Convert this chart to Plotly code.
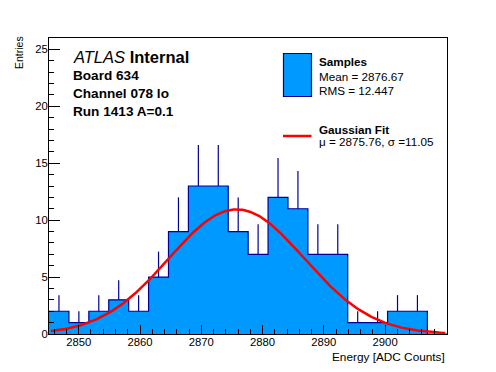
import numpy as np
import plotly.graph_objects as go

# ---- data ----
bin_low = 2845.15
bin_width = 3.25
counts = [2, 1, 2, 3, 2, 5, 9, 13, 13, 9, 7, 12, 11, 7, 7, 1, 1, 2, 2, 0]
fit_mu = 2875.76
fit_sigma = 11.05
fit_amp = 10.95
x_range = [2845.15, 2910.1]
y_range = [0, 26]
x_ticks = [2850, 2860, 2870, 2880, 2890, 2900]
y_ticks = [0, 5, 10, 15, 20, 25]
label_lines = ["Board 634", "Channel 078 lo", "Run 1413 A=0.1"]
legend_samples = ["Samples", "Mean = 2876.67", "RMS = 12.447"]
legend_fit = ["Gaussian Fit", "\u03bc = 2875.76, \u03c3 =11.05"]

# ---- derived ----
n = len(counts)
edges = [bin_low + bin_width * i for i in range(n + 1)]
centers = [bin_low + bin_width * (i + 0.5) for i in range(n)]
step_y = counts + [counts[-1]]

FILL = "#0099FF"
NAVY = "#000099"
FONT = "Liberation Sans, Arial, Helvetica, sans-serif"

W, H = 496, 372
ML, MR, MT, MB = 49, 49, 38, 38
PW, PH = W - ML - MR, H - MT - MB


def px(x):
    return (x - ML) / PW


def py(y):
    return (H - MB - y) / PH


fig = go.Figure()

# histogram fill + outline (step)
fig.add_trace(go.Scatter(
    x=edges, y=step_y, mode="lines", line=dict(shape="hv", color=NAVY, width=1.2),
    fill="tozeroy", fillcolor=FILL, hoverinfo="skip", showlegend=False))

# error bars (upper only)
ex = [c for c, v in zip(centers, counts) if v > 0]
ey = [v for v in counts if v > 0]
fig.add_trace(go.Scatter(
    x=ex, y=ey, mode="markers", marker=dict(size=0.1, color=NAVY, opacity=0),
    error_y=dict(type="data", array=list(np.sqrt(ey)), arrayminus=[0] * len(ey),
                 symmetric=False, color=NAVY, thickness=1.2, width=0),
    showlegend=False, hoverinfo="skip"))

# gaussian fit curve
gx = np.linspace(x_range[0] + 0.3, x_range[1] - 0.3, 400)
gy = fit_amp * np.exp(-0.5 * ((gx - fit_mu) / fit_sigma) ** 2)
fig.add_trace(go.Scatter(x=gx, y=gy, mode="lines", line=dict(color="#FF0000", width=2.5),
                         showlegend=False, hoverinfo="skip"))

axis_common = dict(
    showgrid=False, zeroline=False, showline=True, linecolor="black", linewidth=1,
    mirror=True, ticks="inside", tickcolor="black",
    tickfont=dict(family=FONT, size=11.3, color="black"),
)

fig.update_xaxes(range=x_range, tickmode="array", tickvals=x_ticks,
                 ticktext=[str(v) for v in x_ticks], ticklen=9, tickwidth=1,
                 minor=dict(tickmode="linear", tick0=2846, dtick=2, ticklen=5,
                            tickcolor="black", ticks="inside"),
                 ticklabelstandoff=-3, **axis_common)
fig.update_yaxes(range=y_range, tickmode="array", tickvals=y_ticks,
                 ticktext=[str(v) for v in y_ticks], ticklen=11, tickwidth=1,
                 minor=dict(tickmode="linear", tick0=0, dtick=1, ticklen=5,
                            tickcolor="black", ticks="inside"),
                 ticklabelstandoff=-2, **axis_common)

annotations = []
# axis titles
annotations.append(dict(text="Energy [ADC Counts]", x=px(446.7), y=py(357), xref="paper", yref="paper",
                        xanchor="right", yanchor="middle", showarrow=False,
                        font=dict(family=FONT, size=11.8, color="black")))
annotations.append(dict(text="Entries", x=px(19.5), y=py(34), xref="paper", yref="paper",
                        xanchor="center", yanchor="top", textangle=-90, showarrow=False,
                        font=dict(family=FONT, size=10.5, color="black")))
# ATLAS label
annotations.append(dict(text="<i>ATLAS</i> <b>Internal</b>", x=px(71), y=py(56.5), xref="paper",
                        yref="paper", xanchor="left", yanchor="middle", showarrow=False,
                        font=dict(family=FONT, size=16.5, color="black")))
for t, yy in zip(label_lines, [75, 93.5, 111.5]):
    annotations.append(dict(text="<b>%s</b>" % t, x=px(71), y=py(yy), xref="paper", yref="paper",
                            xanchor="left", yanchor="middle", showarrow=False,
                            font=dict(family=FONT, size=13.6, color="black")))
# legend texts
for t, yy, b in zip(legend_samples, [61, 76, 90], [True, False, False]):
    annotations.append(dict(text=("<b>%s</b>" % t) if b else t, x=px(317), y=py(yy), xref="paper",
                            yref="paper", xanchor="left", yanchor="middle", showarrow=False,
                            font=dict(family=FONT, size=11.7, color="black")))
for t, yy, b in zip(legend_fit, [129.3, 141], [True, False]):
    annotations.append(dict(text=("<b>%s</b>" % t) if b else t, x=px(317), y=py(yy), xref="paper",
                            yref="paper", xanchor="left", yanchor="middle", showarrow=False,
                            font=dict(family=FONT, size=11.7, color="black")))

shapes = [
    dict(type="rect", xref="paper", yref="paper", x0=px(283.5), x1=px(311.5), y0=py(96.5), y1=py(53.5),
         fillcolor=FILL, line=dict(color=NAVY, width=1.2)),
    dict(type="line", xref="paper", yref="paper", x0=px(283), x1=px(311.5), y0=py(136), y1=py(136),
         line=dict(color="#FF0000", width=2.5)),
]

fig.update_layout(
    width=W, height=H, margin=dict(l=ML, r=MR, t=MT, b=MB),
    paper_bgcolor="white", plot_bgcolor="white", showlegend=False,
    annotations=annotations, shapes=shapes,
)

fig.write_html("out.html", config={"displayModeBar": False},
               post_script="document.body.style.margin='0px';document.body.style.padding='0px';")
